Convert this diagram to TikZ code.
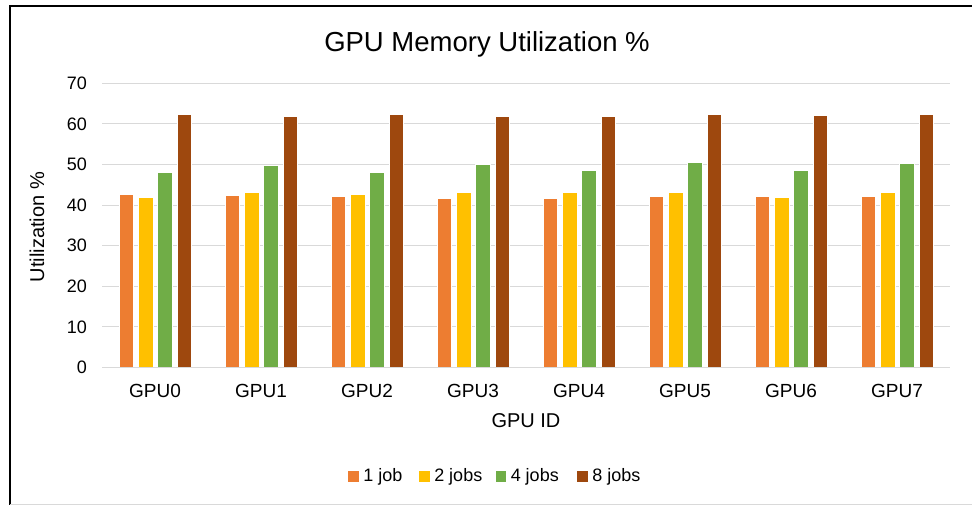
\documentclass[tikz,border=0pt]{standalone}
\usepackage{fontspec}
\setmainfont{Liberation Sans}
\usetikzlibrary{positioning}

\definecolor{jobone}{HTML}{ED7D31}
\definecolor{jobtwo}{HTML}{FFC000}
\definecolor{jobfour}{HTML}{70AD47}
\definecolor{jobeight}{HTML}{9E480E}
\definecolor{gridgray}{HTML}{D9D9D9}

\newcommand{\pxsize}[1]{\fontsize{#1}{#1}\selectfont}

\tikzset{
  gridline/.style={draw=gridgray, line width=1pt},
  chartbar/.style={fill=#1, draw=white, line width=0.3pt},
  ticklabel/.style={font=\pxsize{18}, anchor=east, inner sep=0pt},
  catlabel/.style={font=\pxsize{19}, anchor=base, inner sep=0pt},
  axistitle/.style={font=\pxsize{20}, inner sep=0pt},
  legsq/.style={fill=#1, minimum size=10.7pt, inner sep=0pt},
  legtext/.style={font=\pxsize{18}, inner sep=0pt, text height=13pt, text depth=3pt},
}

\begin{document}
\begin{tikzpicture}[x=1pt, y=-1pt]
  \useasboundingbox (0,0) rectangle (972,505);
  % frame
  \draw[line width=2pt] (10,505) -- (10,6.5) -- (972,6.5);
  \draw[gridgray] (10,504) -- (972,504);

  % title
  \node[font=\pxsize{27.5}, anchor=base, inner sep=0pt] (title) at (487,52)
    {GPU Memory Utilization \%};

  % grid and value axis
  \foreach \v in {0,10,...,70} {
    \draw[gridline] (102,{367.5-4.06*\v}) -- (950,{367.5-4.06*\v});
    \node[ticklabel] (tick\v) at (87,{367.5-4.06*\v}) {\v};
  }
  \node[axistitle, rotate=90] (ytitle) at (37,227) {Utilization \%};

  % bars: 1 job / 2 jobs / 4 jobs / 8 jobs
  \foreach \a/\b/\c/\d [count=\g from 0] in {
      42.7/41.9/48.2/62.4, 42.4/43.2/49.9/61.9,
      42.3/42.8/48.2/62.3, 41.6/43.2/50.0/61.9,
      41.6/43.2/48.7/61.9, 42.2/43.2/50.5/62.4,
      42.2/41.9/48.7/62.1, 42.2/43.2/50.3/62.4} {
    \pgfmathsetmacro{\cx}{155+106*\g}
    \draw[chartbar=jobone] ({\cx-36.3},367.5) rectangle ++(14.6,{-4.06*\a});
    \draw[chartbar=jobtwo] ({\cx-16.9},367.5) rectangle ++(14.6,{-4.06*\b});
    \draw[chartbar=jobfour] ({\cx+2.5},367.5) rectangle ++(14.6,{-4.06*\c});
    \draw[chartbar=jobeight] ({\cx+21.9},367.5) rectangle ++(14.6,{-4.06*\d});
    \node[catlabel] (gpu\g) at (\cx,397.5) {GPU\g};
  }
  \draw[gridline] (102,367.5) -- (950,367.5);
  \node[axistitle, anchor=base] (xtitle) at (526,427) {GPU ID};

  % legend
  \node[legsq=jobone] (sqone) at (353.7,476.7) {};
  \node[legtext, right=4pt of sqone] (legone) {1 job};
  \node[legsq=jobtwo] (sqtwo) at (424.5,476.7) {};
  \node[legtext, right=4pt of sqtwo] (legtwo) {2 jobs};
  \node[legsq=jobfour] (sqfour) at (501,476.7) {};
  \node[legtext, right=4pt of sqfour] (legfour) {4 jobs};
  \node[legsq=jobeight] (sqeight) at (582.6,476.7) {};
  \node[legtext, right=4pt of sqeight] (legeight) {8 jobs};
\end{tikzpicture}
\end{document}
